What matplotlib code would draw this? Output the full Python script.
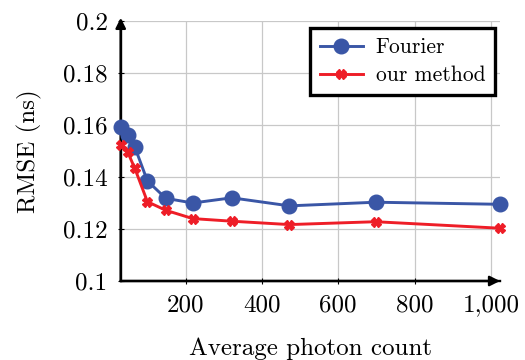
import matplotlib
matplotlib.use("Agg")
import matplotlib.pyplot as plt
from matplotlib.ticker import FuncFormatter, MultipleLocator

# data
photon_count = [30, 48, 67, 100, 148, 219, 321, 472, 698, 1024]
rmse_fourier = [0.1594, 0.1560, 0.1515, 0.1385, 0.1318, 0.1300, 0.1320, 0.1289, 0.1303, 0.1295]
rmse_ours = [0.1522, 0.1497, 0.1433, 0.1305, 0.1272, 0.1240, 0.1230, 0.1217, 0.1228, 0.1203]

plt.rcParams['font.family'] = ['cmr10', 'DejaVu Serif']
plt.rcParams['axes.formatter.use_mathtext'] = True

fig = plt.figure(figsize=(5.25, 3.6), dpi=100)
ax = fig.add_axes([120.7/525, 79/360, (500-120.7)/525, 260/360])

blue = '#3A56A6'
red = '#EE1D27'
ax.plot(photon_count, rmse_fourier, color=blue, lw=2.1, marker='o', ms=10.5,
        label='Fourier', clip_on=False, zorder=4)
ax.plot(photon_count, rmse_ours, color=red, lw=2.1, marker='X', ms=7,
        label='our method', clip_on=False, zorder=5)

ax.set_xlim(30, 1024)
ax.set_ylim(0.1, 0.2)
ax.xaxis.set_major_locator(MultipleLocator(200))
ax.yaxis.set_major_locator(MultipleLocator(0.02))
ax.xaxis.set_major_formatter(FuncFormatter(lambda v, p: f"{v:,.0f}"))
ax.yaxis.set_major_formatter(FuncFormatter(lambda v, p: f"{v:.2f}".rstrip('0')))
ax.grid(True, color='#c8c8c8', lw=0.9)
ax.set_axisbelow(True)

for s in ['top', 'right']:
    ax.spines[s].set_visible(False)
for s in ['left', 'bottom']:
    ax.spines[s].set_linewidth(1.7)
ax.tick_params(direction='inout', length=5, width=0.8, labelsize=18, pad=7)

# axis arrows
ax.annotate('', xy=(1.0, 0), xytext=(0, 0), xycoords='axes fraction',
            arrowprops=dict(arrowstyle='-|>', lw=1.7, color='black', mutation_scale=15,
                            shrinkA=0, shrinkB=0))
ax.annotate('', xy=(0, 1.012), xytext=(0, 0), xycoords='axes fraction',
            arrowprops=dict(arrowstyle='-|>', lw=1.7, color='black', mutation_scale=15,
                            shrinkA=0, shrinkB=0))

ax.set_xlabel('Average photon count', fontsize=18, labelpad=15)
ax.set_ylabel('RMSE (ns)', fontsize=18, labelpad=15)

leg = ax.legend(loc='upper right', bbox_to_anchor=(495/525, 1-28/360),
                bbox_transform=fig.transFigure, borderaxespad=0,
                fancybox=False, edgecolor='black', framealpha=1,
                fontsize=15.5, handlelength=2.0, borderpad=0.45, labelspacing=0.4,
                handletextpad=0.6)
leg.get_frame().set_linewidth(2.4)

fig.savefig('out.png', dpi=100)
